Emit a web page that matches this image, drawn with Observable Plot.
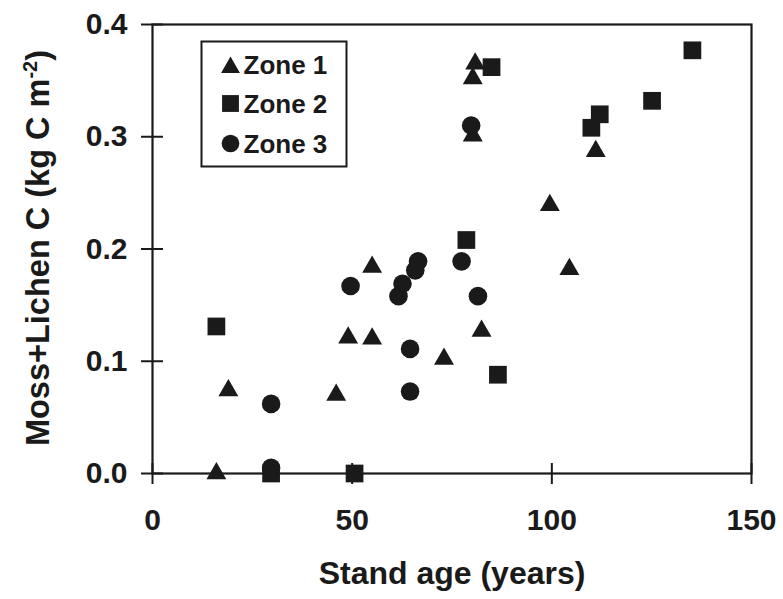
<!DOCTYPE html>
<html><head><meta charset="utf-8">
<script src="https://cdn.jsdelivr.net/npm/d3@7"></script>
<script src="https://cdn.jsdelivr.net/npm/@observablehq/plot@0.6"></script>
<style>body{margin:0;background:#fff}</style>
</head><body><div id="chart"></div>
<script>
// ---- data ----
const zone1Age = [16, 19, 46, 49, 55, 55, 73, 80.8, 80.2, 80.2, 82.4, 99.5, 104.4, 111];
const zone1C   = [0.0, 0.074, 0.070, 0.121, 0.120, 0.184, 0.102, 0.365, 0.352, 0.301, 0.127, 0.239, 0.182, 0.287];
const zone2Age = [16, 29.7, 50.6, 78.6, 84.9, 86.5, 109.9, 112, 125.1, 135.2];
const zone2C   = [0.131, 0.0, 0.0, 0.208, 0.362, 0.088, 0.308, 0.320, 0.332, 0.377];
const zone3Age = [29.7, 29.7, 49.6, 61.6, 62.6, 65.8, 66.5, 64.5, 64.5, 77.4, 79.8, 81.5];
const zone3C   = [0.062, 0.005, 0.167, 0.158, 0.169, 0.181, 0.189, 0.111, 0.073, 0.189, 0.310, 0.158];
const xTicks = [0, 50, 100, 150];
const yTicks = [0, 0.1, 0.2, 0.3, 0.4];
const zoneLabels = ["Zone 1", "Zone 2", "Zone 3"];
const xTitle = "Stand age (years)";
const yTitleMain = "Moss+Lichen C (kg C m";
const yTitleSup = "-2";
const yTitleEnd = ")";

// ---- layout / style ----
const W = 783, H = 599, mL = 152, mR = 32, mT = 24, mB = 126;
const fw = W - mL - mR, fh = H - mT - mB;
const ink = "#1a1a1a";
const font = "'Liberation Sans', Arial, Helvetica, sans-serif";
const symbols = ["triangle", "square", "circle"];
const radii = [7.4, 10, 9.3];
const legendDy = [43, 79, 119];
const legendTextDy = [65 - mT, 104 - mT, 144 - mT];

const rows = (ages, vals) => ages.map((a, i) => ({age: a, c: vals[i]}));
const series = [rows(zone1Age, zone1C), rows(zone2Age, zone2C), rows(zone3Age, zone3C)];

const marks = [
  Plot.frame({stroke: ink, strokeWidth: 2.2}),
  Plot.tickX(xTicks, {x: d => d, insetTop: fh - 10, insetBottom: -11, stroke: ink, strokeWidth: 2}),
  Plot.tickY(yTicks, {y: d => d, insetLeft: -11, insetRight: fw - 11, stroke: ink, strokeWidth: 2}),
  Plot.axisX({ticks: xTicks, tickSize: 0, tickPadding: 35, tickFormat: d3.format("d"), fontSize: 30, fill: ink, label: null}),
  Plot.axisY({ticks: yTicks, tickSize: 0, tickPadding: 25, tickFormat: d3.format(".1f"), fontSize: 30, fill: ink, label: null})
];
series.forEach((s, i) => {
  marks.push(Plot.dot(s, {x: "age", y: "c", symbol: symbols[i], r: radii[i], fill: ink, stroke: "none"}));
});
// legend box
marks.push(Plot.frame({stroke: ink, strokeWidth: 2, insetLeft: 49, insetTop: 17, insetRight: fw - 194, insetBottom: 307}));
zoneLabels.forEach((lab, i) => {
  marks.push(Plot.dot([lab], {frameAnchor: "top-left", dx: 78, dy: legendDy[i], symbol: symbols[i], r: radii[i] * 0.95, fill: ink, stroke: "none"}));
  marks.push(Plot.text([lab], {text: d => d, frameAnchor: "top-left", dx: 91, dy: legendTextDy[i], textAnchor: "start", lineAnchor: "middle", fontSize: 26, fill: ink}));
});
marks.push(Plot.text([xTitle], {text: d => d, frameAnchor: "bottom", dy: 100, textAnchor: "middle", lineAnchor: "middle", fontSize: 32, fill: ink}));
marks.push(Plot.text([yTitleMain + yTitleSup + yTitleEnd], {text: d => d, frameAnchor: "left", rotate: -90, dx: -114, dy: -1, textAnchor: "middle", lineAnchor: "middle", fontSize: 32.5, fill: ink}));

const chart = Plot.plot({
  width: W, height: H,
  marginLeft: mL, marginRight: mR, marginTop: mT, marginBottom: mB,
  x: {domain: [0, 150]},
  y: {domain: [0, 0.4]},
  style: {fontFamily: font, fontWeight: "bold", fontSize: "30px", background: "#fff", color: ink},
  marks
});
document.getElementById("chart").appendChild(chart);

// superscript in y title
chart.querySelectorAll("text").forEach(t => {
  if (t.textContent === yTitleMain + yTitleSup + yTitleEnd) {
    const ns = "http://www.w3.org/2000/svg";
    t.textContent = "";
    t.setAttribute("text-anchor", "middle");
    t.appendChild(document.createTextNode(yTitleMain));
    const sup = document.createElementNS(ns, "tspan");
    sup.setAttribute("dy", "-12");
    sup.setAttribute("font-size", "20");
    sup.textContent = yTitleSup;
    t.appendChild(sup);
    const end = document.createElementNS(ns, "tspan");
    end.setAttribute("dy", "12");
    end.textContent = yTitleEnd;
    t.appendChild(end);
  }
});
</script>
</body></html>
